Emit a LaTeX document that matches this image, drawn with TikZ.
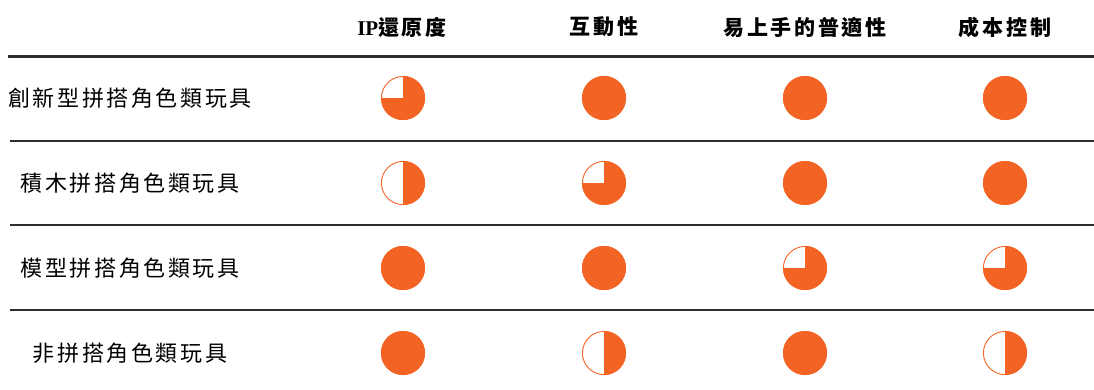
\documentclass[tikz,border=0pt]{standalone}
\usepackage{fontspec}
\setmainfont{Liberation Serif}
\newfontfamily\cjkrow[LetterSpace=12]{Noto Sans CJK TC}
\newfontfamily\cjkhead[LetterSpace=13]{Noto Sans CJK TC}
\usetikzlibrary{positioning}

\definecolor{ballorange}{HTML}{F36324}
\definecolor{rulegray}{HTML}{2E2E2E}

\tikzset{
    head/.style={font=\cjkhead\bfseries\fontsize{21}{21}\selectfont, inner sep=0pt},
    rowlabel/.style={font=\cjkrow\fontsize{22}{22}\selectfont, inner sep=0pt},
    ball/.style={circle, minimum size=44pt, inner sep=0pt},
    rowrule/.style={rulegray, line width=1.4pt},
}

\begin{document}
\begin{tikzpicture}[x=1pt,y=1pt]
        \useasboundingbox (0,0) rectangle (1094,-389);
        % column heads
        \node[head] (hip) at (402,-27) {{\rmfamily\bfseries IP}還原度};
        \node[head] (hact) at (604,-27) {互動性};
        \node[head] (heasy) at (805,-27) {易上手的普適性};
        \node[head] (hcost) at (1005,-27) {成本控制};
        \draw[rulegray, line width=3pt] (8,-56) -- (1094,-56);
        \foreach \y in {141,225,310}
            \draw[rowrule] (10,-\y) -- (1094,-\y);
        % rows: label and four ratings (in quarters)
        \foreach \r/\y/\lab/\la/\lb/\lc/\ld in {
                1/98/創新型拼搭角色類玩具/3/4/4/4,
                2/183/積木拼搭角色類玩具/2/3/4/4,
                3/268/模型拼搭角色類玩具/4/4/3/3,
                4/353/非拼搭角色類玩具/4/2/4/2} {
            \node[rowlabel] (lab\r) at (130,-\y) {\lab};
            \foreach \c/\x/\l in {1/403/\la,2/604/\lb,3/805/\lc,4/1005/\ld} {
                \node[ball] (b\r\c) at (\x,-\y) {};
                \fill[ballorange] (b\r\c.center) -- ++(0,22)
                    arc[start angle=90, end angle={90-90*\l}, radius=22] -- cycle;
                \draw[ballorange, line width=0.9pt] (b\r\c.center) circle[radius=21.6];
            }
        }
    \end{tikzpicture}
\end{document}
